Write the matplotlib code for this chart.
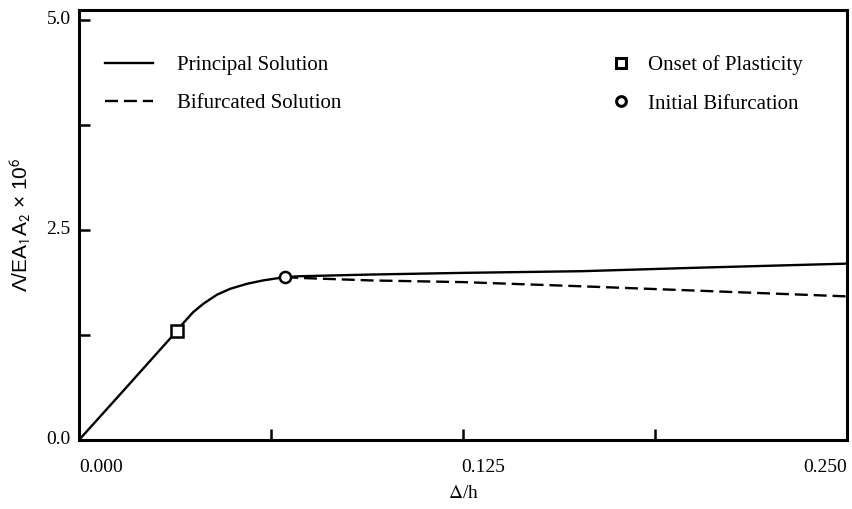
import matplotlib
matplotlib.use("Agg")
import matplotlib.pyplot as plt
from matplotlib.lines import Line2D
import matplotlib.transforms as mtransforms

# Data
principal_x = [0.0, 0.0160, 0.0319, 0.0339, 0.0371, 0.0404, 0.0449, 0.0492, 0.0547, 0.0599,
               0.0671, 0.0719, 0.095, 0.125, 0.1637, 0.20, 0.25]
principal_y = [0.0, 0.65, 1.30, 1.39, 1.52, 1.62, 1.73, 1.80, 1.86, 1.90,
               1.94, 1.95, 1.97, 1.99, 2.01, 2.05, 2.10]
bifurcated_x = [0.0671, 0.0719, 0.095, 0.125, 0.1637, 0.20, 0.25]
bifurcated_y = [1.94, 1.93, 1.90, 1.88, 1.83, 1.78, 1.71]
onset_x, onset_y = [0.0319], [1.30]
bif_x, bif_y = [0.0671], [1.94]

xticks_major = [0.0, 0.125, 0.25]
xtick_labels = ["0.000", "0.125", "0.250"]
xticks_minor = [0.0625, 0.1875]
yticks_major = [0.0, 2.5, 5.0]
ytick_labels = ["0.0", "2.5", "5.0"]
yticks_minor = [1.25, 3.75]

plt.rcParams['font.family'] = ['Liberation Serif', 'DejaVu Serif']
plt.rcParams['mathtext.fontset'] = 'stix'

fig = plt.figure(figsize=(8.53, 5.09), dpi=100)
ax = fig.add_axes([79/853, 69/509, 768/853, 430/509])

lw = 1.7
ax.plot(principal_x, principal_y, color='black', lw=lw, solid_joinstyle='round')
ax.plot(bifurcated_x, bifurcated_y, color='black', lw=lw, dashes=(5.5, 2.5))
ax.plot(onset_x, onset_y, linestyle='none', marker='s', ms=8, mfc='white', mec='black', mew=1.8)
ax.plot(bif_x, bif_y, linestyle='none', marker='o', ms=8, mfc='white', mec='black', mew=1.8)

ax.set_xlim(0, 0.25)
ax.set_ylim(0, 5.12)

ax.set_xticks(xticks_major)
ax.set_xticklabels(xtick_labels)
ax.set_xticks(xticks_minor, minor=True)
ax.set_yticks(yticks_major)
ax.set_yticklabels(ytick_labels)
ax.set_yticks(yticks_minor, minor=True)

ax.tick_params(which='both', direction='in', length=8, width=1.8, labelsize=14,
               top=False, right=False)
ax.tick_params(axis='x', pad=14)
ax.tick_params(axis='y', pad=6)

for s in ax.spines.values():
    s.set_linewidth(2.2)

xl = ax.get_xticklabels()
xl[0].set_horizontalalignment('left')
xl[2].set_horizontalalignment('right')
xl[1].set_transform(xl[1].get_transform() + mtransforms.ScaledTranslation(20/100, 0, fig.dpi_scale_trans))
yl = ax.get_yticklabels()
for t in yl:
    t.set_transform(t.get_transform() + mtransforms.ScaledTranslation(0, 3/100, fig.dpi_scale_trans))

ax.set_xlabel(r'$\Delta$/h', fontsize=14, labelpad=6)
ax.set_ylabel('Λ/EA$_\\mathsf{1}$A$_\\mathsf{2}$ × 10$^\\mathsf{6}$', fontsize=15, labelpad=10,
              family=['Liberation Sans', 'DejaVu Sans'])

h1 = [Line2D([], [], color='black', lw=lw),
      Line2D([], [], color='black', lw=lw, dashes=(5.5, 2.5))]
leg1 = ax.legend(h1, ['Principal Solution', 'Bifurcated Solution'], loc='upper left',
                 bbox_to_anchor=(0.0234, 0.914), frameon=False, fontsize=15,
                 handlelength=2.3, handletextpad=1.15, labelspacing=0.9, borderaxespad=0)
ax.add_artist(leg1)
h2 = [Line2D([], [], linestyle='none', marker='s', ms=7, mfc='white', mec='black', mew=2.2),
      Line2D([], [], linestyle='none', marker='o', ms=7, mfc='white', mec='black', mew=2.2)]
ax.legend(h2, ['Onset of Plasticity', 'Initial Bifurcation'], loc='upper left',
          bbox_to_anchor=(0.681, 0.914), frameon=False, fontsize=15,
          handlelength=1.0, handletextpad=0.8, labelspacing=0.9, borderaxespad=0)

fig.savefig('out.png', dpi=100)
